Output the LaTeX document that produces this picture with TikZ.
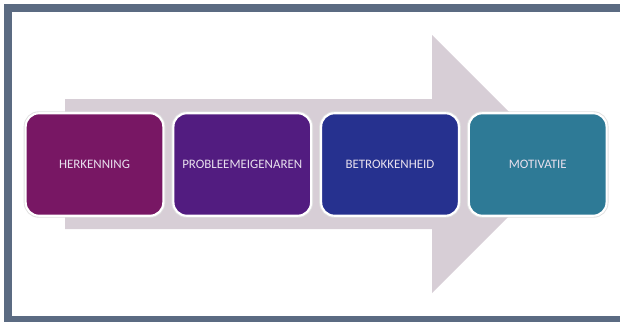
\documentclass[tikz,border=0pt]{standalone}
\usepackage{fontspec}
\setsansfont{Carlito}
\usepackage{tikz}
\usetikzlibrary{positioning}
\usepackage{xcolor}

\definecolor{frameblue}{HTML}{5B6B82}
\definecolor{arrowgrey}{HTML}{D7CED6}
\definecolor{stepone}{HTML}{781764}
\definecolor{steptwo}{HTML}{521C80}
\definecolor{stepthree}{HTML}{26318F}
\definecolor{stepfour}{HTML}{2E7A96}
\definecolor{steptext}{HTML}{E8E0EE}

\begin{document}
\begin{tikzpicture}[x=0.025cm,y=-0.025cm,node distance=0.2cm]
    \tikzstyle{stage}=[shape=rectangle,rounded corners=0.33cm,minimum width=3.44cm,minimum height=2.56cm,
        draw=white,line width=1.5pt,preaction={draw=black!12,line width=2.8pt},
        text=steptext,font=\sffamily\fontsize{9.2}{11}\selectfont,inner sep=0pt]

    \useasboundingbox (0,0) rectangle (620,322);

    % frame
    \fill[frameblue] (4,4) rectangle (620,12);
    \fill[frameblue] (4,4) rectangle (12,322);
    \fill[frameblue] (4,316) rectangle (620,322);

    % big arrow behind the stages
    \fill[arrowgrey] (65,99) -- (432,99) -- (432,35) -- (561,164) -- (432,293) -- (432,229) -- (65,229) -- cycle;

    \node[stage, fill=stepone] (S1) at (94.5,164.5) {HERKENNING};
    \node[stage, fill=steptwo, right=of S1] (S2) {PROBLEEMEIGENAREN};
    \node[stage, fill=stepthree, right=of S2] (S3) {BETROKKENHEID};
    \node[stage, fill=stepfour, right=of S3] (S4) {MOTIVATIE};

\end{tikzpicture}
\end{document}
